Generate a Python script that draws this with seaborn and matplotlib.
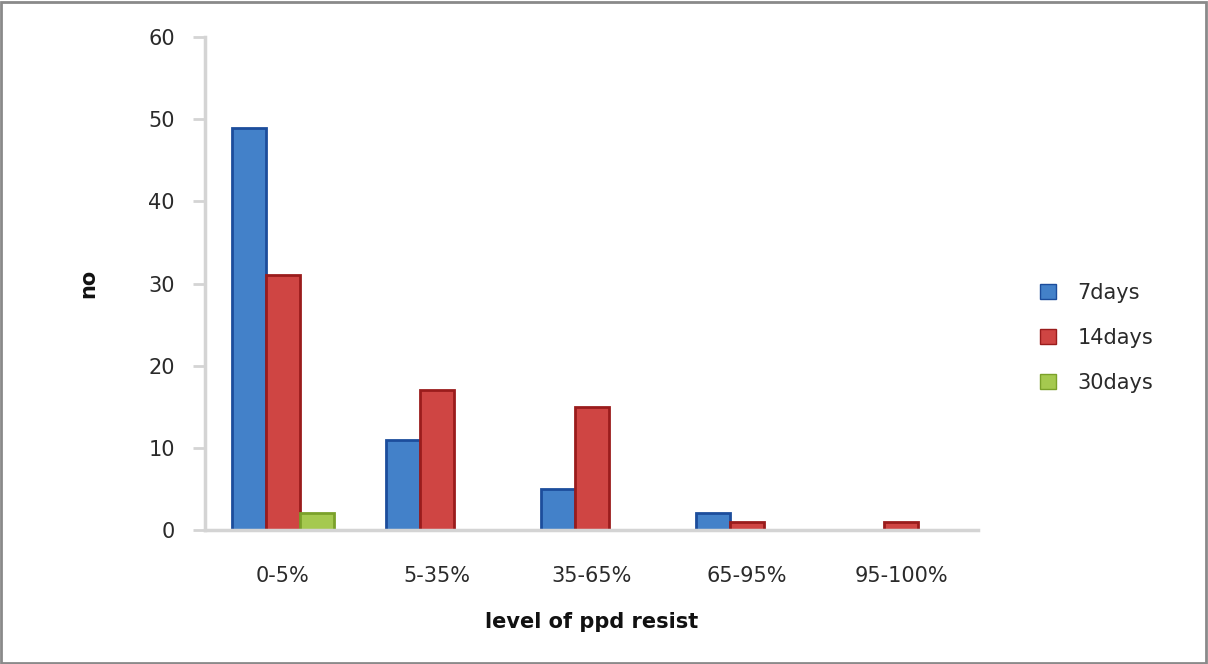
import matplotlib
matplotlib.use("Agg")
import matplotlib.pyplot as plt
import seaborn as sns
import pandas as pd
from matplotlib.patches import Rectangle

categories = ["0-5%", "5-35%", "35-65%", "65-95%", "95-100%"]
series_names = ["7days", "14days", "30days"]
days7 = [49, 11, 5, 2, 0]
days14 = [31, 17, 15, 1, 1]
days30 = [2, 0, 0, 0, 0]

fills = ["#4381C9", "#CF4543", "#A5C94F"]
edges = ["#1C4D9C", "#9A1C1C", "#7BA12A"]

df = pd.DataFrame({
    "level": categories * 3,
    "series": [s for s in series_names for _ in categories],
    "value": days7 + days14 + days30,
})

sns.set_theme(style="white")
plt.rcParams["font.family"] = ["DejaVu Sans"]

fig = plt.figure(figsize=(12.08, 6.64), dpi=100)
ax = fig.add_axes([0.170, 0.202, 0.640, 0.742])

sns.barplot(data=df, x="level", y="value", hue="series", order=categories,
            hue_order=series_names, palette=fills, width=0.66, saturation=1,
            ax=ax, legend=True)

for cont, ec in zip(ax.containers, edges):
    for bar in cont:
        if bar.get_height() > 0:
            bar.set_edgecolor(ec)
            bar.set_linewidth(2.0)
        else:
            bar.set_linewidth(0)

ax.set_xlim(-0.5, 4.5)
ax.set_ylim(0, 60)
ax.set_yticks(range(0, 61, 10))

for side in ["top", "right"]:
    ax.spines[side].set_visible(False)
for side in ["left", "bottom"]:
    ax.spines[side].set_color("#D4D4D4")
    ax.spines[side].set_linewidth(2.5)

ax.tick_params(axis="y", which="major", left=True, length=9, width=2,
               color="#D4D4D4", pad=13, labelsize=15, labelcolor="#2A2A2A")
ax.tick_params(axis="x", which="major", bottom=False, pad=20,
               labelsize=15, labelcolor="#2A2A2A")

ax.set_xlabel("level of ppd resist", fontsize=15, fontweight="bold",
              color="#111111", labelpad=19)
ax.set_ylabel("no", fontsize=15, fontweight="bold", color="#111111", labelpad=36)

leg = ax.legend(loc="center left", bbox_to_anchor=(1.055, 0.39), frameon=False,
                fontsize=15, handlelength=0.8, handleheight=0.8,
                labelspacing=1.2, handletextpad=1.0)
for h, ec in zip(leg.legend_handles, edges):
    h.set_edgecolor(ec)
    h.set_linewidth(1.0)
for t in leg.get_texts():
    t.set_color("#2A2A2A")

# outer frame of the figure
fig.patches.append(Rectangle((0.001, 0.002), 0.997, 0.995, transform=fig.transFigure,
                             fill=False, edgecolor="#8A8A8A", linewidth=2.0))

fig.savefig("out.png", dpi=100)
